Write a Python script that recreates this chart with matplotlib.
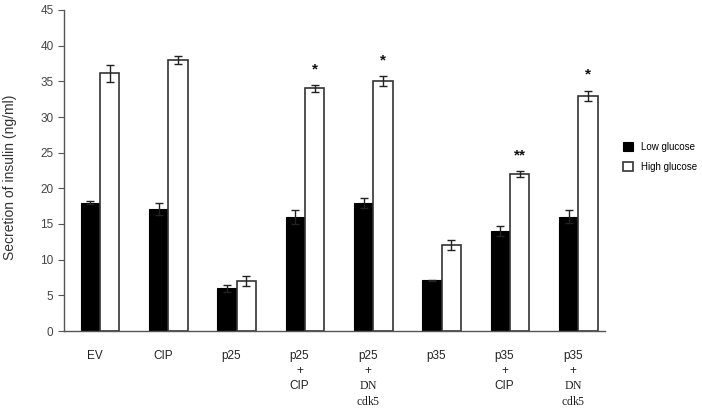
import numpy as np
import matplotlib.pyplot as plt

plt.rcParams['font.family'] = ['Liberation Sans', 'DejaVu Sans']
plt.rcParams['mathtext.fontset'] = 'custom'
plt.rcParams['mathtext.rm'] = 'Liberation Serif'

# data
groups = ['EV', 'CIP', 'p25', 'p25\n+\nCIP', 'p25\n+\n$\\mathrm{DN}$\n$\\mathrm{cdk5}$',
          'p35', 'p35\n+\nCIP', 'p35\n+\n$\\mathrm{DN}$\n$\\mathrm{cdk5}$']
low = [18.0, 17.1, 6.0, 16.0, 18.0, 7.1, 14.0, 16.0]
low_err = [0.2, 0.8, 0.5, 1.0, 0.7, 0.1, 0.7, 0.9]
high = [36.1, 38.0, 7.0, 34.0, 35.0, 12.0, 22.0, 33.0]
high_err = [1.2, 0.6, 0.7, 0.5, 0.7, 0.7, 0.4, 0.7]
stars = ['', '', '', '*', '*', '', '**', '*']

x = np.arange(len(groups))
w = 0.285
grey = '#555555'

fig = plt.figure(figsize=(7.02, 4.12), dpi=100)
ax = fig.add_axes([64 / 702, 1 - 331 / 412, 541 / 702, 321 / 412])

ekw = dict(elinewidth=1, capthick=1, ecolor='#222222')
ax.bar(x - w / 2, low, w, color='black', edgecolor='black', linewidth=0.8,
       yerr=low_err, capsize=3, error_kw=ekw, label='Low glucose')
ax.bar(x + w / 2, high, w, color='white', edgecolor='#333333', linewidth=1.2,
       yerr=high_err, capsize=3, error_kw=ekw, label='High glucose')

for xi, h, e, s in zip(x, high, high_err, stars):
    if s:
        ax.text(xi + w / 2, h + e + 2.2, s, ha='center', va='center',
                fontsize=11, fontweight='bold', color='#111111')

ax.set_xlim(-0.527, 7.39)
ax.set_ylim(0, 45)
ax.set_yticks(np.arange(0, 46, 5))
ax.tick_params(axis='y', direction='out', length=4, width=0.8, color=grey,
               labelsize=8.5, labelcolor='#444444', pad=3.5)
ax.set_xticks(x - 0.08)
ax.set_xticklabels(groups, fontsize=8.5, color='#222222', linespacing=1.3, va='top')
ax.tick_params(axis='x', length=0, pad=14)

for side in ['top', 'right']:
    ax.spines[side].set_visible(False)
for side in ['left', 'bottom']:
    ax.spines[side].set_color(grey)
    ax.spines[side].set_linewidth(1)

ax.set_ylabel('Secretion of insulin (ng/ml)', fontsize=10, color='#333333')
ax.yaxis.set_label_coords(-47 / 541, 0.48)

fig.legend(loc='center left', bbox_to_anchor=(623 / 702, 1 - 157 / 412),
           frameon=False, fontsize=7, handlelength=1.0, handleheight=1.0,
           handletextpad=0.9, labelspacing=1.0, borderpad=0, borderaxespad=0)

fig.savefig('out.png', dpi=100)
plt.close()
